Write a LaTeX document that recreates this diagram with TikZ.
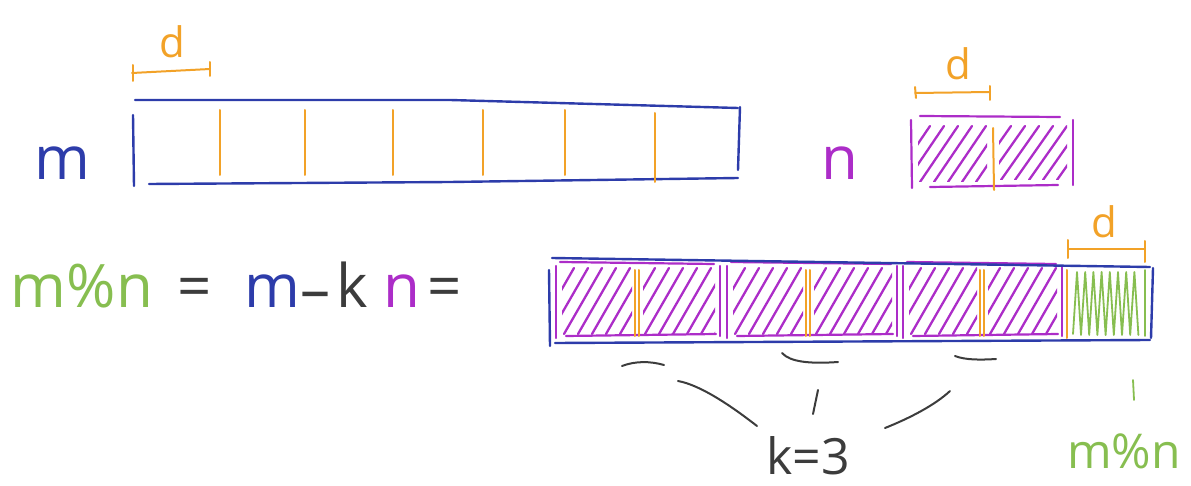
\documentclass[tikz,border=0pt]{standalone}
\usepackage{fontspec}
\setmainfont{Open Sans}
\definecolor{mblue}{RGB}{45,60,170}
\definecolor{morange}{RGB}{242,162,40}
\definecolor{mpurple}{RGB}{172,45,200}
\definecolor{mgreen}{RGB}{135,190,80}
\definecolor{mgray}{RGB}{60,60,60}
\newcommand\hatchbox[4]{%
  \begin{scope}
    \clip (#1,#2) rectangle (#3,#4);
    \foreach \k in {0,...,9}{\draw[hatch] ({#1-40+\k*14},{#4}) -- ++(38,{#2-#4});}
  \end{scope}}
\begin{document}
\begin{tikzpicture}[x=1pt,y=-1pt, line cap=round, line join=round,
  blueln/.style={draw=mblue, line width=2.4pt},
  orln/.style={draw=morange, line width=2pt},
  purln/.style={draw=mpurple, line width=2.2pt},
  hatch/.style={draw=mpurple, line width=2.3pt},
  grn/.style={draw=mgreen, line width=1.8pt},
  ink/.style={draw=mgray, line width=2pt},
  lbl/.style={inner sep=0pt, font=\fontsize{60}{60}\selectfont},
  small/.style={inner sep=0pt, font=\fontsize{42}{42}\selectfont}]
\useasboundingbox (0,0) rectangle (1191,486);

% ---- top: m bar
\node[lbl, text=mblue, anchor=base] (mlabel) at (62,180) {m};
\draw[blueln] (133,115) -- (134,186);
\draw[blueln] (135,100) -- (450,100) -- (738,108);
\draw[blueln] (149,184) -- (450,182) -- (738,178);
\draw[blueln] (740,107) -- (738,170);
\foreach \x in {220,305,393,483,565}{\draw[orln] (\x,110) -- (\x,175);}
\draw[orln] (655,113) -- (655,182);
\draw[orln] (132,73) -- (210,69);
\draw[orln] (133,65) -- (133,81);
\draw[orln] (210,62) -- (210,76);
\node[small, text=morange, anchor=base] (d1) at (172,58) {d};

% ---- top: n box
\node[lbl, text=mpurple, anchor=base] (nlabel) at (840,180) {n};
\hatchbox{918}{126}{987}{182}
\hatchbox{999}{126}{1067}{180}
\draw[purln] (911,120) -- (912,188);
\draw[purln] (1073,120) -- (1073,185);
\draw[purln] (920,116) -- (1060,117);
\draw[purln] (930,187) -- (1058,185);
\draw[orln] (993,128) -- (994,190);
\draw[orln] (915,93) -- (990,92);
\draw[orln] (915,87) -- (916,98);
\draw[orln] (990,86) -- (990,100);
\node[small, text=morange, anchor=base] (d2) at (958,80) {d};

% ---- equation
\node[lbl, text=mgreen, anchor=base] (lhs) at (82,307) {m\%n};
\node[lbl, text=mgray, anchor=base] (eq1) at (195,307) {=};
\node[lbl, text=mblue, anchor=base] (m2) at (272,307) {m};
\node[lbl, text=mgray, anchor=base] (minus) at (315,310) {–};
\node[lbl, text=mgray, anchor=base] (k) at (352,307) {k};
\node[lbl, text=mpurple, anchor=base] (n2) at (402,307) {n};
\node[lbl, text=mgray, anchor=base] (eq2) at (445,307) {=};

% ---- bottom bar
\foreach \a/\b/\c in {556/720/637, 727/897/808, 903/1062/982}{
  \hatchbox{\a+6}{268}{\c-5}{334}
  \hatchbox{\c+6}{268}{\b-5}{334}
  \draw[purln] (\a,266) -- (\a,338);
  \draw[purln] (\b,266) -- (\b,336);
  \draw[purln] (\a+4,262) -- (\b-6,264);
  \draw[purln] (\a+10,336) -- (\b-4,334);
  \draw[orln] (\c-2,270) -- (\c-2,336);
  \draw[orln] (\c+2,270) -- (\c+2,336);
}
\draw[orln] (1067,270) -- (1067,338);
\draw[grn] (1073,334) \foreach \k in {0,...,7}{ -- ({1077+\k*8.2},272) -- ({1081+\k*8.2},335)};
\draw[grn] (1145,270) -- (1145,336);
\draw[blueln] (549,270) -- (550,346);
\draw[blueln] (552,258) -- (1150,267);
\draw[blueln] (555,343) -- (1150,340);
\draw[blueln] (1153,268) -- (1151,338);
\draw[orln] (1068,249) -- (1145,249);
\draw[orln] (1068,240) -- (1068,258);
\draw[orln] (1145,241) -- (1145,262);
\node[small, text=morange, anchor=base] (d3) at (1104,238) {d};

% ---- k = 3 braces
\node[lbl, text=mgray, anchor=base, font=\fontsize{50}{50}\selectfont] (k3) at (808,474) {k=3};
\coordinate (b1s) at (622,366);
\coordinate (b1e) at (664,365);
\coordinate (b2s) at (782,353);
\coordinate (b2e) at (838,362);
\coordinate (b3s) at (955,356);
\coordinate (b3e) at (996,359);
\draw[ink] (b1s) .. controls (635,361) and (650,361) .. (b1e);
\draw[ink] (b2s) .. controls (790,362) and (810,364) .. (b2e);
\draw[ink] (b3s) .. controls (965,360) and (980,360) .. (b3e);
\coordinate (l1) at (678,381);
\coordinate (l1e) at (757,426);
\coordinate (l2) at (818,390);
\coordinate (l2e) at (813,414);
\coordinate (l3) at (950,391);
\coordinate (l3e) at (885,428);
\draw[ink] (l1) .. controls (700,385) and (730,405) .. (l1e);
\draw[ink] (l2) -- (l2e);
\draw[ink] (l3) .. controls (935,405) and (910,418) .. (l3e);

% ---- remainder
\draw[grn] (1133,380) -- (1134,400);
\node[small, text=mgreen, anchor=base, font=\fontsize{48}{48}\selectfont] (rem) at (1124,468) {m\%n};
\end{tikzpicture}
\end{document}
